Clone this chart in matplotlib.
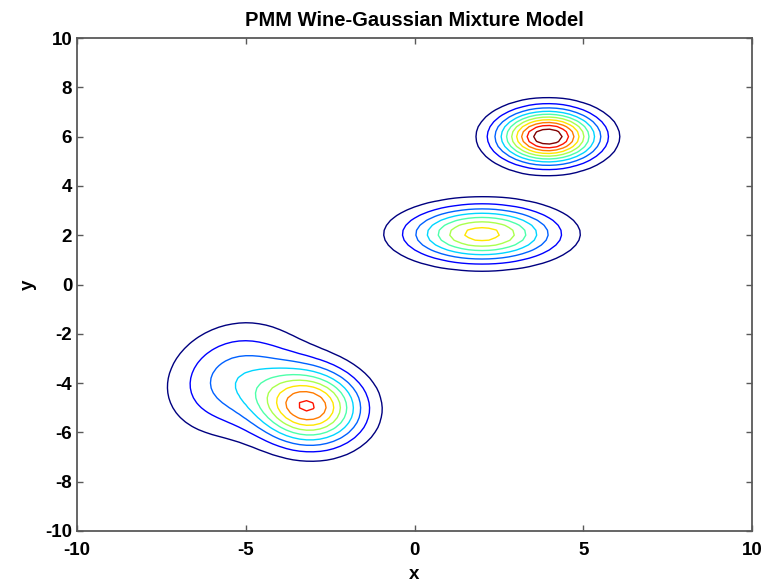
import numpy as np
import matplotlib
matplotlib.use('Agg')
import matplotlib.pyplot as plt

plt.rcParams['font.family'] = ['Liberation Sans', 'DejaVu Sans']
plt.rcParams['axes.unicode_minus'] = False

# mixture components (top, middle, lower peak, lower broad)
weights = [0.245, 0.259, 0.302, 0.194]
means_x = [3.95, 2.0, -3.11, -5.33]
means_y = [6.0, 2.05, -4.97, -3.80]
sigma_x = [0.97, 1.45, 1.03, 1.27]
sigma_y = [0.72, 0.75, 1.05, 1.43]
rho = [0.0, 0.0, -0.04, 0.16]

x_ticks = [-10, -5, 0, 5, 10]
y_ticks = [-10, -8, -6, -4, -2, 0, 2, 4, 6, 8, 10]


def gauss2d(X, Y, mx, my, sx, sy, r):
    dx = (X - mx) / sx
    dy = (Y - my) / sy
    q = (dx * dx - 2 * r * dx * dy + dy * dy) / (1 - r * r)
    return np.exp(-0.5 * q) / (2 * np.pi * sx * sy * np.sqrt(1 - r * r))


grid = np.linspace(-10, 10, 101)
X, Y = np.meshgrid(grid, grid)
Z = np.zeros_like(X)
for w, mx, my, sx, sy, r in zip(weights, means_x, means_y, sigma_x, sigma_y, rho):
    Z += w * gauss2d(X, Y, mx, my, sx, sy, r)

levels = np.linspace(0, Z.max(), 12)[1:-1]

fig = plt.figure(figsize=(7.65, 5.83), dpi=100)
ax = fig.add_axes([0.1007, 0.0892, 0.8823, 0.8456])
ax.contour(X, Y, Z, levels=levels, cmap='jet', linewidths=1.0)

ax.set_xlim(-10, 10)
ax.set_ylim(-10, 10)
ax.set_xticks(x_ticks)
ax.set_yticks(y_ticks)
ax.tick_params(direction='in', length=4, width=1, color='0.35',
               top=True, right=True, labelsize=13.5)
ax.tick_params(axis='x', pad=8)
ax.tick_params(axis='y', pad=3.5)
for lbl in ax.get_xticklabels() + ax.get_yticklabels():
    lbl.set_fontweight('bold')
for s in ax.spines.values():
    s.set_color('0.35')
    s.set_linewidth(1.3)

ax.set_title('PMM Wine-Gaussian Mixture Model', fontsize=14.5,
             fontweight='bold', pad=9)
ax.set_xlabel('x', fontsize=13.5, fontweight='bold', labelpad=5)
ax.set_ylabel('y', fontsize=13.5, fontweight='bold', labelpad=6)

fig.savefig('out.png', dpi=100)
